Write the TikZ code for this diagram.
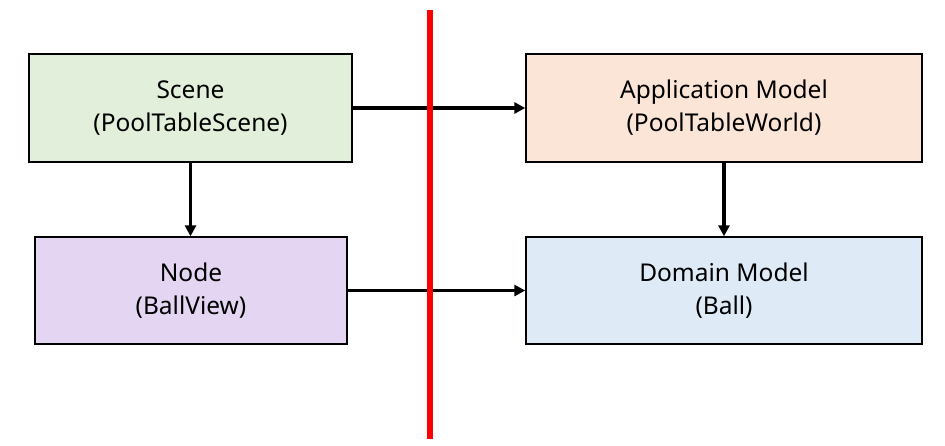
\documentclass[tikz,border=0pt]{standalone}
\usepackage{fontspec}
\setmainfont{Noto Sans}
\usetikzlibrary{arrows.meta}

\definecolor{scenegreen}{HTML}{E2EFDA}
\definecolor{viewpurple}{HTML}{E4D6F2}
\definecolor{appsalmon}{HTML}{FBE5D6}
\definecolor{domainblue}{HTML}{DEEBF7}

\begin{document}
\begin{tikzpicture}[x=1pt, y=-1pt,
  layerbox/.style={draw=black, line width=1.4pt, align=center, inner sep=0pt,
    font=\fontsize{24.5}{33}\selectfont},
  flow/.style={line width=3.5pt, -{Triangle[length=11pt,width=11pt]}}]

% Page frame
\useasboundingbox (0,0) rectangle (945,445);

% Boxes (left side: view layer, right side: model layer)
\node[layerbox, fill=scenegreen, minimum width=323, minimum height=108] (scene) at (190.5,108) {Scene\\(PoolTableScene)};
\node[layerbox, fill=viewpurple, minimum width=312, minimum height=107] (view) at (191,290.5) {Node\\(BallView)};
\node[layerbox, fill=appsalmon, minimum width=396, minimum height=108] (appmodel) at (724,108) {Application Model\\(PoolTableWorld)};
\node[layerbox, fill=domainblue, minimum width=396, minimum height=107] (domain) at (724,290.5) {Domain Model\\(Ball)};

% Arrows
\draw[flow] (scene.south) -- (scene.south |- view.north);
\draw[flow] (appmodel.south) -- (appmodel.south |- domain.north);
\draw[flow] (scene.east) -- (appmodel.west);
\draw[flow] (view.east) -- (domain.west);

% Red boundary line
\coordinate (cuttop) at (429.5,10);
\coordinate (cutbottom) at (429.5,439);
\draw[red, line width=6pt] (cuttop) -- (cutbottom);
\end{tikzpicture}
\end{document}
